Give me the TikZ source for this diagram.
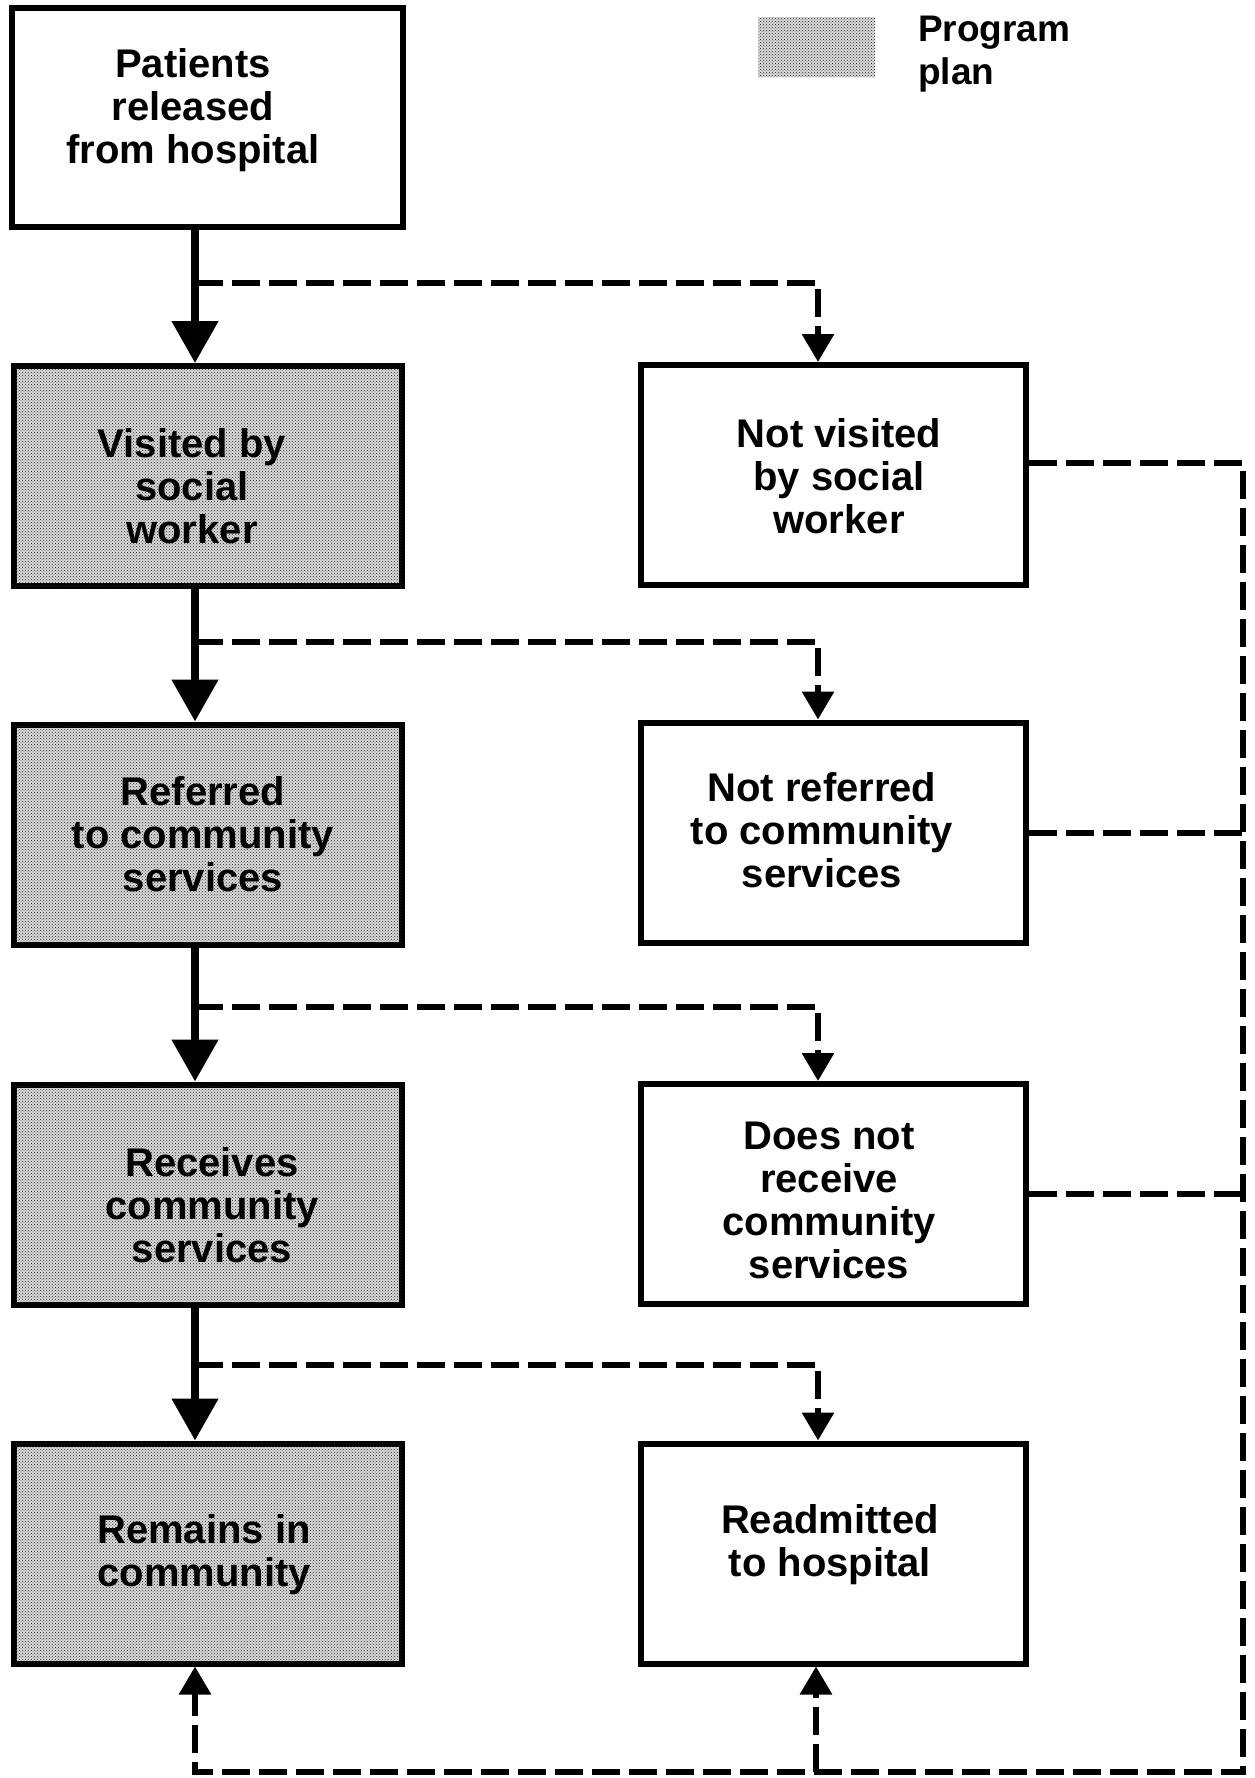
\documentclass[tikz,border=0pt]{standalone}
\usepackage{fontspec}
\setmainfont{Liberation Sans}
\usetikzlibrary{arrows.meta,patterns}
\begin{document}
\begin{tikzpicture}[x=1pt,y=-1pt,
  box/.style={draw=black, line width=6pt, fill=white, minimum width=390pt, minimum height=220pt, inner sep=0pt},
  shade/.style={fill=gray!30, postaction={pattern=crosshatch dots, pattern color=black!85}},
  plan/.style={box, shade},
  lbl/.style={align=center, font=\fontsize{40}{43}\selectfont\bfseries, inner sep=0pt},
  flow/.style={line width=8pt, -{Triangle[width=45pt,length=42pt]}},
  alt/.style={line width=6pt, dash pattern=on 28pt off 9pt},
  altarrow/.style={alt, -{Triangle[width=31pt,length=28pt]}},
]
\useasboundingbox (0,0) rectangle (1254,1778);

% reference lines
\coordinate (trunk) at (195,0);
\coordinate (drop) at (818,0);
\coordinate (up2) at (816,0);
\coordinate (rail) at (1243,0);
\coordinate (bot) at (0,1772);
\coordinate (b1) at (195,283);
\coordinate (b2) at (195,642);
\coordinate (b3) at (195,1007);
\coordinate (b4) at (195,1365);

% boxes
\node[box, minimum width=391pt, minimum height=219pt] (src) at (207.5,117.5) {};
\node[plan, minimum width=388pt] (vis) at (208,476) {};
\node[plan, minimum width=388pt] (ref) at (208,834.5) {};
\node[plan, minimum width=388pt] (rec) at (208,1194.5) {};
\node[plan, minimum width=388pt] (rem) at (208,1553.5) {};
\node[box, minimum width=385pt] (nv) at (833.5,475) {};
\node[box, minimum width=385pt] (nr) at (833.5,832.5) {};
\node[box, minimum width=385pt] (dnr) at (833.5,1194) {};
\node[box, minimum width=385pt] (re) at (833.5,1553.5) {};

% box texts
\node[lbl] (srct) at (193,110) {Patients\\released\\from hospital};
\node[lbl] (vist) at (192,486) {Visited by\\social\\worker};
\node[lbl] (reft) at (203,834) {Referred\\to community\\services};
\node[lbl] (rect) at (212,1205) {Receives\\community\\services};
\node[lbl] (remt) at (204,1555) {Remains in\\community};
\node[lbl] (nvt) at (839,476) {Not visited\\by social\\worker};
\node[lbl] (nrt) at (822,830) {Not referred\\to community\\services};
\node[lbl] (dnrt) at (829,1200) {Does not\\receive\\community\\services};
\node[lbl] (ret) at (830,1545) {Readmitted\\to hospital};

% legend
\node[shade, minimum width=117pt, minimum height=60pt, inner sep=0pt] (key) at (816.5,47) {};
\node[anchor=west, align=left, inner sep=0pt, font=\fontsize{37}{43}\selectfont\bfseries] (keyt) at (918,54) {Program\\plan};

% program path
\draw[flow] (src.south -| trunk) -- (vis.north -| trunk);
\draw[flow] (vis.south -| trunk) -- (ref.north -| trunk);
\draw[flow] (ref.south -| trunk) -- (rec.north -| trunk);
\draw[flow] (rec.south -| trunk) -- (rem.north -| trunk);

% alternative branches
\draw[altarrow] (b1) -| (nv.north -| drop);
\draw[altarrow] (b2) -| (nr.north -| drop);
\draw[altarrow] (b3) -| (dnr.north -| drop);
\draw[altarrow] (b4) -| (re.north -| drop);

% outcomes of the alternative branches
\draw[alt] (nr.east) -- (nr.east -| rail);
\draw[alt] (dnr.east) -- (dnr.east -| rail);
\draw[altarrow] ([yshift=12pt]nv.east) -| (rail |- bot) -- (trunk |- bot) -- (rem.south -| trunk);
\draw[altarrow] (bot -| up2) -- (re.south -| up2);
\end{tikzpicture}
\end{document}
